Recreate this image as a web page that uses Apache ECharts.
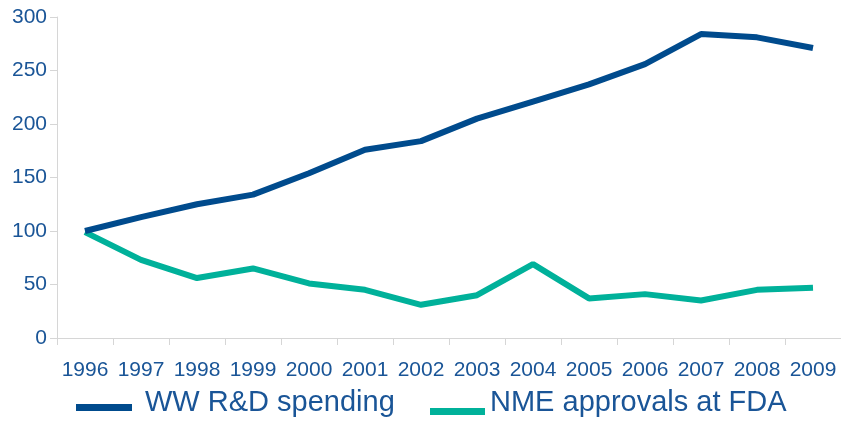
<!DOCTYPE html>
<html>
<head>
<meta charset="utf-8">
<script src="https://cdn.jsdelivr.net/npm/echarts@6/dist/echarts.min.js"></script>
<style>
  html, body { margin: 0; padding: 0; background: #ffffff; }
  #chart { width: 841px; height: 422px; }
</style>
</head>
<body>
<div id="chart"></div>
<script>
// Years on the category axis
var years = ['1996', '1997', '1998', '1999', '2000', '2001', '2002',
             '2003', '2004', '2005', '2006', '2007', '2008', '2009'];

// Indexed values (1996 = 100)
var rdSpending = [100, 113, 125, 134, 154, 176, 184, 205, 221, 237, 256, 284, 281, 271];
var nmeApprovals = [99, 73, 56, 65, 51, 45, 31, 40, 69, 37, 41, 35, 45, 47];

// Value axis ticks
var yMin = 0, yMax = 300, yStep = 50;

var seriesNames = ['WW R&D spending', 'NME approvals at FDA'];

var textBlue = '#1A5597';
var fontFam = '"Liberation Sans", Arial, sans-serif';
var axisGray = '#D6D6D6';

function legendText(padding) {
  return {
    color: textBlue, fontSize: 29, fontFamily: fontFam,
    rich: { t: { color: textBlue, fontSize: 29, fontFamily: fontFam, padding: padding } }
  };
}

var chart = echarts.init(document.getElementById('chart'), null, { renderer: 'canvas' });

chart.setOption({
  animation: false,
  backgroundColor: '#ffffff',
  grid: { left: 57, top: 17, bottom: 84, width: 788, containLabel: false },
  legend: [
    {
      data: [seriesNames[0]],
      left: 76, top: 388, padding: 0,
      icon: 'rect', itemWidth: 56, itemHeight: 7,
      formatter: function (n) { return '{t|' + n + '}'; },
      textStyle: legendText([0, 0, 10, 8])
    },
    {
      data: [seriesNames[1]],
      left: 430, top: 388, padding: 0,
      icon: 'rect', itemWidth: 55, itemHeight: 7,
      formatter: function (n) { return '{t|' + n + '}'; },
      textStyle: legendText([0, 0, 18, 0])
    }
  ],
  xAxis: {
    type: 'category',
    data: years,
    boundaryGap: true,
    axisLine: { lineStyle: { color: axisGray, width: 1 } },
    axisTick: { show: true, length: 7, lineStyle: { color: axisGray } },
    axisLabel: { color: textBlue, fontSize: 21, fontFamily: fontFam, margin: 22, interval: 0 },
    splitLine: { show: false }
  },
  yAxis: {
    type: 'value',
    min: yMin, max: yMax, interval: yStep,
    axisLine: { show: true, lineStyle: { color: axisGray, width: 1 } },
    axisTick: { show: true, length: 7, lineStyle: { color: axisGray } },
    axisLabel: { color: textBlue, fontSize: 21, fontFamily: fontFam, margin: 10 },
    splitLine: { show: false }
  },
  series: [
    {
      name: seriesNames[0],
      type: 'line',
      data: rdSpending,
      symbol: 'none',
      itemStyle: { color: '#004B8D' },
      lineStyle: { color: '#004B8D', width: 6 },
      z: 3
    },
    {
      name: seriesNames[1],
      type: 'line',
      data: nmeApprovals,
      symbol: 'none',
      itemStyle: { color: '#00B19A' },
      lineStyle: { color: '#00B19A', width: 6 },
      z: 2
    }
  ]
});
</script>
</body>
</html>
